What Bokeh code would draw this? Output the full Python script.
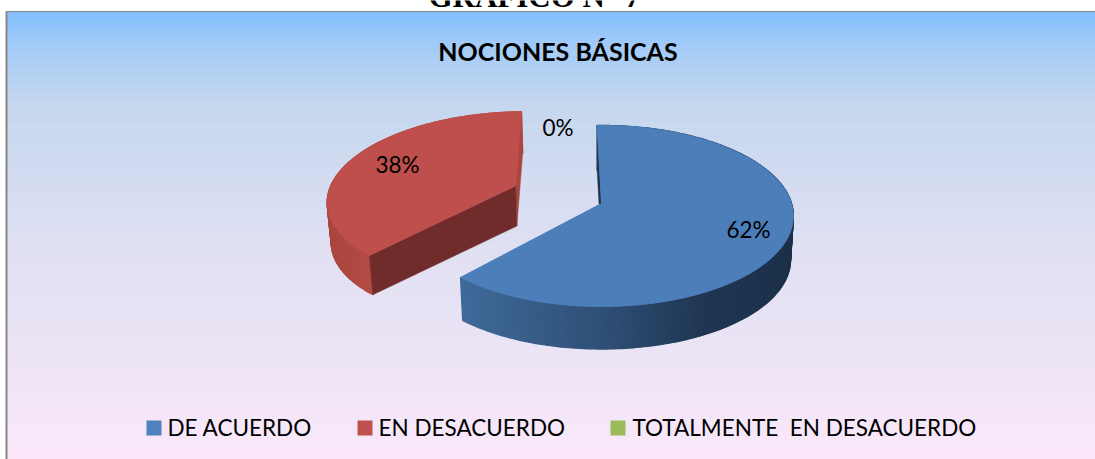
import numpy as np
from bokeh.plotting import figure
from bokeh.models import Range1d
from bokeh.core.properties import value
from bokeh.embed import file_html
from bokeh.resources import INLINE

# ---- data
categories = ["DE ACUERDO", "EN DESACUERDO", "TOTALMENTE \u00a0EN DESACUERDO"]
shares = [62, 38, 0]
title_text = "NOCIONES BÁSICAS"
header_text = "GRÁFICO N° 7"
top_colors = ["#4C7EBA", "#BF4F4C", "#9BBB59"]

# ---- canvas
W, H = 1095, 459
p = figure(width=W, height=H, output_backend="svg", toolbar_location=None,
           x_range=Range1d(0, W), y_range=Range1d(H, 0), min_border=0,
           x_axis_location=None, y_axis_location=None)
p.grid.visible = False
p.outline_line_color = None
p.background_fill_color = "white"
p.border_fill_color = "white"


def hex2rgb(c):
    return np.array([int(c[i:i + 2], 16) for i in (1, 3, 5)], float)


def ramp(t, stops, cols):
    rgb = [np.interp(t, stops, [hex2rgb(c)[i] for c in cols]) for i in range(3)]
    return "#%02x%02x%02x" % tuple(int(round(v)) for v in rgb)


# ---- panel background
L, T = 6, 11
ys = np.arange(T, H, 2)
bg_stops = [16, 40, 100, 250, 350, 459]
bg_cols = ["#82BEFD", "#9CC8F8", "#C3D6EE", "#DFDFF2", "#EBE3F5", "#FBE7FA"]
bgc = [ramp(y, bg_stops, bg_cols) for y in ys]
p.quad(left=L, right=W, top=ys, bottom=ys + 2, fill_color=bgc, line_color=bgc, line_width=0.5)
p.line([L, L], [H, T], line_color="#868686", line_width=2)
p.line([L, W], [T, T], line_color="#868686", line_width=1.2)

# ---- header, clipped by the top of the page
p.text([534], [-4.5], text=[header_text], text_font=value("Liberation Serif"),
       text_font_style="bold", text_font_size="31px", text_align="center",
       text_baseline="alphabetic", text_color="black")
p.text([557.5], [50], text=[title_text], text_font=value("Lato"), text_font_style="bold",
       text_font_size="25px", text_align="center", text_baseline="middle", text_color="black")

# ---- pie projection
CX, CY, A, B, K = 601.0, 203.0, 190.0, 88.8, 0.138
SHRINK = 0.985
ROT = -1.5
DEPTHS = [44.0, 40.0, 44.0]
OFFSETS = [(0.0, 0.0), (-0.465, 0.205), (0.0, 0.0)]


def project(u, v, depth=None):
    w = 1.0 / (1.0 + K * v)
    s, d = (SHRINK, depth) if depth is not None else (1.0, 0.0)
    return CX + s * A * u * w, CY + d - s * B * v * w


def rim(t0, t1, ex):
    th = np.radians(np.linspace(t0, t1, max(int(abs(t1 - t0)), 2) + 1))
    return np.sin(th) + ex[0], np.cos(th) + ex[1]


starts = ROT + np.cumsum([0] + shares[:-1]) * 3.6
ends = starts + np.array(shares) * 3.6


def wall_strips(i, cols_fn):
    u, v = rim(starts[i], ends[i], OFFSETS[i])
    ux, uy = project(u, v)
    lx, ly = project(u, v, DEPTHS[i])
    xs, yy, cc = [], [], []
    for j in range(len(u) - 1):
        xs.append([ux[j], ux[j + 1], lx[j + 1], lx[j]])
        yy.append([uy[j], uy[j + 1], ly[j + 1], ly[j]])
        cc.append(cols_fn((ux[j] + ux[j + 1]) / 2))
    p.patches(xs, yy, fill_color=cc, line_color=cc, line_width=1.4)


def cut_face(i, angle, color):
    ex = OFFSETS[i]
    th = np.radians(angle)
    ax, ay = project(ex[0], ex[1])
    bx, by = project(ex[0], ex[1], DEPTHS[i])
    rx, ry = project(ex[0] + np.sin(th), ex[1] + np.cos(th))
    qx, qy = project(ex[0] + np.sin(th), ex[1] + np.cos(th), DEPTHS[i])
    p.patch([ax, rx, qx, bx], [ay, ry, qy, by], fill_color=color, line_color=color, line_width=0.5)


def top_face(i):
    ex = OFFSETS[i]
    u, v = rim(starts[i], ends[i], ex)
    x, y = project(np.r_[ex[0], u], np.r_[ex[1], v])
    p.patch(x, y, fill_color=top_colors[i], line_color=top_colors[i], line_width=1.0)


# red slice
wall_strips(1, lambda x: ramp(x, [332, 372], ["#A9473F", "#B54C47"]))
cut_face(1, ends[1], "#A8463F")
cut_face(1, starts[1], "#6F2C2A")
top_face(1)

# blue slice
wall_strips(0, lambda x: ramp(x, [460, 600, 700, 790], ["#3F6A9A", "#2F5076", "#203754", "#1C3049"]))
cut_face(0, starts[0], "#1C3049")
top_face(0)

# ---- value labels
lab_x = [748, 397, 557.5]
lab_y = [229, 164, 127]
p.text(lab_x, lab_y, text=[f"{s}%" for s in shares], text_font=value("Lato"),
       text_font_size="22.5px", text_align="center", text_baseline="middle", text_color="black")

# ---- legend
sw_x = [146, 357, 610]
tx_x = [167, 378, 632]
p.quad(left=sw_x, right=[x + 15 for x in sw_x], top=[420] * 3, bottom=[435] * 3,
       fill_color=["#4F81BD", "#C0504D", "#9BBB59"], line_color=None)
p.text(tx_x, [427] * 3, text=categories, text_font=value("Lato"), text_font_size="22.5px",
       text_align="left", text_baseline="middle", text_color="black")

open("out.html", "w").write(file_html(p, INLINE))
